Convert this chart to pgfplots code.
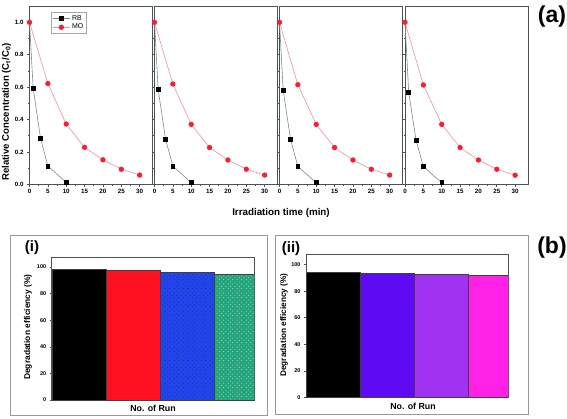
\documentclass[border=0pt]{standalone}
\usepackage{fontspec}
\setmainfont{Liberation Sans}
\usepackage{pgfplots}
\pgfplotsset{compat=1.18}
\usetikzlibrary{patterns}
\pgfdeclarepatternformonly{sparsedots}{\pgfqpoint{-1pt}{-1pt}}{\pgfqpoint{5pt}{5pt}}{\pgfqpoint{4.5pt}{4.5pt}}{%
  \pgfpathcircle{\pgfqpoint{1pt}{1pt}}{0.45pt}%
  \pgfpathcircle{\pgfqpoint{3.2pt}{3.4pt}}{0.45pt}%
  \pgfusepath{fill}}
\definecolor{rbline}{HTML}{7E8A90}
\definecolor{moline}{HTML}{FF8C9C}
\definecolor{mored}{HTML}{FF1A2E}
\definecolor{axgray}{HTML}{4A5458}
\definecolor{bred}{HTML}{FF1020}
\definecolor{bblue}{HTML}{2444F0}
\definecolor{bgreen}{HTML}{22A67E}
\definecolor{bpurple}{HTML}{5E0AF2}
\definecolor{bviolet}{HTML}{A232F2}
\definecolor{bmag}{HTML}{FF22E6}
\pgfplotsset{
  topax/.style={scale only axis, width=123pt, height=178.2pt,
    anchor=south west,
    xmin=0, xmax=33.5, ymin=0, ymax=1.1,
    xtick={0,5,...,30}, minor x tick num=1,
    ytick={0,0.2,...,1.0}, minor y tick num=1,
    xtick pos=bottom, ytick pos=left, tick align=outside,
    major tick length=2.5pt, minor tick length=1.4pt,
    axis line style={axgray, line width=0.8pt},
    tick style={axgray, line width=0.6pt},
    tick label style={font=\fontsize{6.2}{7}\selectfont\bfseries},
    /pgf/number format/assume math mode=true,
    yticklabel style={/pgf/number format/fixed, /pgf/number format/precision=1, /pgf/number format/fixed zerofill},
    xticklabel style={yshift=1pt},
    clip=false},
  rbl/.style={rbline, line width=0.6pt, no markers, forget plot},
  rb/.style={rbline, line width=0.6pt, mark=square*, mark size=1.9pt, mark options={fill=black, draw=black}},
  mo/.style={moline, line width=0.6pt, mark=*, mark size=2.3pt, mark options={fill=mored, draw=mored}},
  barax/.style={scale only axis, anchor=south west,
    xmin=0.5, xmax=4.25, ymin=0,
    xtick=\empty, ytick={0,20,...,100},
    ytick pos=left, tick align=outside,
    major tick length=2pt,
    axis line style={axgray, line width=0.7pt},
    tick style={axgray, line width=0.5pt},
    tick label style={font=\fontsize{5.5}{6}\selectfont\bfseries},
    /pgf/number format/assume math mode=true},
  bb/.style={ybar, bar width=1, bar shift=0pt, draw=black!75, line width=0.3pt}
}
\begin{document}
\begin{tikzpicture}
\useasboundingbox (0pt,0pt) rectangle (567pt,418pt);
% ---------- (a) panels ----------
\begin{axis}[topax, at={(29.5pt,233.7pt)},
  legend style={at={(0.175,0.968)}, anchor=north west, draw=gray!70, line width=0.5pt,
    font=\fontsize{7}{8}\selectfont, inner sep=1.2pt, row sep=-1.5pt,
    legend cell align=left}]
\addplot[rbl] coordinates {(0,1.0) (1,0.593)};
\addplot[rb] coordinates {(1,0.593) (3,0.284) (5,0.113) (10,0.012)};
\addplot[mo] coordinates {(0,1.0) (5,0.622) (10,0.372) (15,0.228) (20,0.151) (25,0.093) (30,0.057)};
\legend{RB,MO}
\end{axis}
\begin{axis}[topax, at={(154.5pt,233.7pt)}, yticklabels={}]
\addplot[rbl] coordinates {(0,1.0) (1,0.586)};
\addplot[rb] coordinates {(1,0.586) (3,0.280) (5,0.113) (10,0.010)};
\addplot[mo] coordinates {(0,1.0) (5,0.619) (10,0.370) (15,0.227) (20,0.150) (25,0.093) (30,0.057)};
\end{axis}
\begin{axis}[topax, at={(279.5pt,233.7pt)}, yticklabels={}]
\addplot[rbl] coordinates {(0,1.0) (1,0.582)};
\addplot[rb] coordinates {(1,0.582) (3,0.278) (5,0.110) (10,0.010)};
\addplot[mo] coordinates {(0,1.0) (5,0.615) (10,0.370) (15,0.227) (20,0.150) (25,0.093) (30,0.057)};
\end{axis}
\begin{axis}[topax, at={(405pt,233.7pt)}, yticklabels={}]
\addplot[rbl] coordinates {(0,1.0) (1,0.570)};
\addplot[rb] coordinates {(1,0.570) (3,0.274) (5,0.109) (10,0.010)};
\addplot[mo] coordinates {(0,1.0) (5,0.613) (10,0.370) (15,0.227) (20,0.150) (25,0.093) (30,0.056)};
\end{axis}
\node[rotate=90, font=\fontsize{9.6}{10}\selectfont\bfseries] at (6.5pt,306pt) {Relative Concentration (C$_\mathbf{t}$/C$_\mathbf{0}$)};
\node[font=\fontsize{9.8}{10}\selectfont\bfseries] at (281pt,205pt) {Irradiation time (min)};
\node[font=\fontsize{23}{24}\selectfont\bfseries] at (552pt,401pt) {(a)};
\node[font=\fontsize{23}{24}\selectfont\bfseries] at (552pt,170pt) {(b)};
% ---------- (b)(i) ----------
\draw[gray!80, line width=0.6pt] (10pt,3pt) rectangle (267pt,183pt);
\node[font=\fontsize{15}{16}\selectfont\bfseries] at (32pt,170pt) {(i)};
\begin{axis}[barax, at={(51.7pt,18pt)}, width=202.6pt, height=143pt, ymax=107.5]
\addplot[bb, fill=black] coordinates {(1,98.6)};
\addplot[bb, fill=bred] coordinates {(2,97.4)};
\addplot[bb, fill=bblue, postaction={pattern=sparsedots, pattern color=black!55!teal}] coordinates {(3,96.1)};
\addplot[bb, fill=bgreen, postaction={pattern=sparsedots, pattern color=pink!70!white}] coordinates {(4,94.6)};
\end{axis}
\node[rotate=90, font=\fontsize{8.4}{9}\selectfont\bfseries] at (28pt,91pt) {Degradation efficiency (\%)};
\node[font=\fontsize{8.8}{9}\selectfont\bfseries] at (153pt,10pt) {No. of Run};
% ---------- (b)(ii) ----------
\draw[gray!80, line width=0.6pt] (275pt,4pt) rectangle (528pt,183pt);
\node[font=\fontsize{15}{16}\selectfont\bfseries] at (291pt,169pt) {(ii)};
\begin{axis}[barax, at={(306pt,20.7pt)}, width=202.3pt, height=143.3pt, ymax=108]
\addplot[bb, fill=black] coordinates {(1,94.0)};
\addplot[bb, fill=bpurple] coordinates {(2,93.4)};
\addplot[bb, fill=bviolet] coordinates {(3,92.9)};
\addplot[bb, fill=bmag] coordinates {(4,92.4)};
\end{axis}
\node[rotate=90, font=\fontsize{8.2}{9}\selectfont\bfseries] at (284pt,93pt) {Degradation efficiency (\%)};
\node[font=\fontsize{8.8}{9}\selectfont\bfseries] at (413pt,12pt) {No. of Run};
\end{tikzpicture}
\end{document}
